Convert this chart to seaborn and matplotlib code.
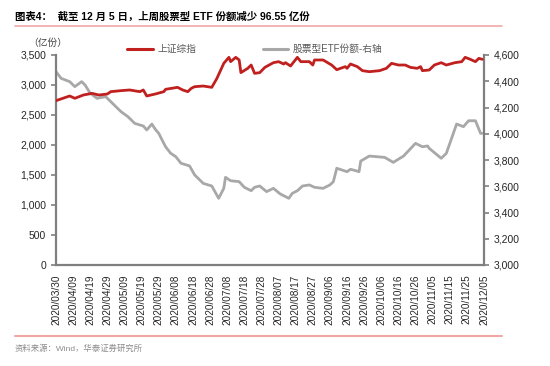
import pandas as pd
import matplotlib
matplotlib.use('Agg')
import matplotlib.pyplot as plt
import matplotlib.dates as mdates
from matplotlib.ticker import FuncFormatter
from matplotlib.lines import Line2D
import seaborn as sns

# 上证综指（左轴）
sh_dates = ['03/30', '04/03', '04/07', '04/10', '04/15', '04/20', '04/24', '04/29',
            '05/01', '05/07', '05/12', '05/18', '05/20', '05/22', '05/27', '06/01',
            '06/02', '06/09', '06/12', '06/15', '06/17', '06/19', '06/24', '06/29',
            '07/02', '07/06', '07/09', '07/10', '07/13', '07/15', '07/16', '07/20',
            '07/22', '07/24', '07/27', '07/30', '08/04', '08/07', '08/10', '08/11',
            '08/14', '08/18', '08/20', '08/25', '08/27', '08/28', '09/02', '09/07',
            '09/10', '09/15', '09/16', '09/18', '09/22', '09/25', '09/29', '10/05',
            '10/09', '10/12', '10/16', '10/20', '10/23', '10/27', '10/29', '10/30',
            '11/03', '11/06', '11/10', '11/13', '11/18', '11/22', '11/24', '11/27',
            '11/30', '12/02', '12/04']
sh_values = [2739, 2778, 2817, 2778, 2833, 2861, 2833, 2850,
             2889, 2906, 2917, 2889, 2917, 2817, 2850, 2889,
             2928, 2961, 2917, 2889, 2944, 2972, 2983, 2961,
             3111, 3361, 3461, 3389, 3461, 3417, 3206, 3278,
             3333, 3194, 3206, 3294, 3372, 3389, 3350, 3372,
             3317, 3461, 3389, 3389, 3333, 3417, 3417, 3333,
             3255, 3306, 3278, 3350, 3306, 3239, 3222, 3239,
             3278, 3361, 3333, 3333, 3294, 3278, 3306, 3239,
             3250, 3333, 3372, 3333, 3372, 3389, 3461, 3428,
             3389, 3444, 3428]

# 股票型ETF份额（右轴）
etf_dates = ['03/30', '04/02', '04/07', '04/10', '04/14', '04/16', '04/19', '04/23',
             '04/28', '05/04', '05/07', '05/11', '05/15', '05/20', '05/22', '05/25',
             '05/27', '05/29', '06/02', '06/05', '06/08', '06/11', '06/16', '06/19',
             '06/24', '06/29', '07/03', '07/06', '07/07', '07/10', '07/15', '07/18',
             '07/22', '07/24', '07/27', '07/31', '08/04', '08/08', '08/13', '08/15',
             '08/18', '08/21', '08/25', '08/28', '09/02', '09/06', '09/08', '09/10',
             '09/16', '09/18', '09/21', '09/23', '09/24', '09/29', '10/08', '10/13',
             '10/19', '10/26', '10/30', '11/02', '11/03', '11/10', '11/12', '11/13',
             '11/19', '11/23', '11/26', '11/30', '12/03', '12/04']
etf_values = [4473, 4422, 4397, 4359, 4397, 4371, 4308, 4270,
              4283, 4206, 4168, 4130, 4079, 4059, 4029, 4074,
              4034, 4003, 3901, 3851, 3825, 3775, 3755, 3686,
              3622, 3602, 3508, 3584, 3668, 3642, 3635, 3592,
              3566, 3592, 3602, 3559, 3584, 3541, 3508, 3546,
              3566, 3602, 3610, 3592, 3584, 3610, 3635, 3737,
              3711, 3729, 3719, 3711, 3792, 3830, 3820, 3782,
              3830, 3927, 3901, 3907, 3889, 3813, 3838, 3851,
              4074, 4054, 4099, 4099, 4003, 4003]

left_ticks = [0, 500, 1000, 1500, 2000, 2500, 3000, 3500]
right_ticks = [3000, 3200, 3400, 3600, 3800, 4000, 4200, 4400, 4600]

sns.set_style('white')
plt.rcParams['font.family'] = ['Liberation Sans', 'Noto Sans CJK SC', 'DejaVu Sans']
plt.rcParams['axes.unicode_minus'] = False

red = '#C0201E'
grey = '#A8A8A8'
spine_c = '#7F7F7F'
txt_c = '#262626'

sh = pd.DataFrame({'date': pd.to_datetime(['2020/' + d for d in sh_dates]), 'value': sh_values})
etf = pd.DataFrame({'date': pd.to_datetime(['2020/' + d for d in etf_dates]), 'value': etf_values})

fig = plt.figure(figsize=(5.5, 3.66), dpi=100)
ax = fig.add_axes([56 / 550, 1 - 265 / 366, 428 / 550, 210 / 366])
ax2 = ax.twinx()

sns.lineplot(data=etf, x='date', y='value', ax=ax2, color=grey, linewidth=2.0, zorder=1)
sns.lineplot(data=sh, x='date', y='value', ax=ax, color=red, linewidth=2.0, zorder=3)
ax.set_zorder(ax2.get_zorder() + 1)
ax.patch.set_visible(False)

ax.set_xlim(pd.Timestamp('2020-03-30'), pd.Timestamp('2020-12-05'))
ax.set_ylim(0, 3500)
ax2.set_ylim(3000, 4600)
ax.set_yticks(left_ticks)
ax2.set_yticks(right_ticks)
fmt = FuncFormatter(lambda v, p: f'{v:,.0f}')
ax.yaxis.set_major_formatter(fmt)
ax2.yaxis.set_major_formatter(fmt)

xt = pd.date_range('2020-03-30', '2020-12-05', freq='10D')
ax.set_xticks(xt)
ax.xaxis.set_major_formatter(mdates.DateFormatter('%Y/%m/%d'))
for a in (ax, ax2):
    a.set_xlabel('')
    a.set_ylabel('')
    a.grid(False)
    for s in a.spines.values():
        s.set_visible(False)
    a.tick_params(colors=spine_c, labelcolor=txt_c, labelsize=7.5, length=3.5, width=1.2, direction='out')

ax.spines['left'].set_visible(True)
ax.spines['bottom'].set_visible(True)
ax2.spines['right'].set_visible(True)
for s in (ax.spines['left'], ax.spines['bottom'], ax2.spines['right']):
    s.set_color(spine_c)
    s.set_linewidth(1.6)
ax.tick_params(axis='x', rotation=90, labelsize=7.2)
ax.tick_params(axis='y', left=True)
ax2.tick_params(axis='y', right=True)

handles = [Line2D([], [], color=red, linewidth=2.2), Line2D([], [], color=grey, linewidth=2.2)]
fig.legend(handles, ['上证综指', '股票型ETF份额-右轴'], loc='center',
           bbox_to_anchor=(255 / 550, 1 - 49 / 366), ncol=2, frameon=False,
           fontsize=7, handlelength=2.6, handletextpad=0.5, columnspacing=6.8,
           labelcolor='#595959')

fig.text(28 / 550, 1 - 43 / 366, '（亿份）', fontsize=7, color='#404040', va='center')

fig.text(15 / 550, 1 - 17 / 366, '图表4：  截至 12 月 5 日，上周股票型 ETF 份额减少 96.55 亿份',
         fontsize=7.5, fontweight='bold', color='black', va='center')
fig.add_artist(Line2D([15 / 550, 502 / 550], [1 - 26 / 366, 1 - 26 / 366], color='#F2A7A7', linewidth=1.2))
fig.add_artist(Line2D([15 / 550, 502 / 550], [1 - 336 / 366, 1 - 336 / 366], color='#F2A7A7', linewidth=1.5))
fig.text(15 / 550, 1 - 349 / 366, '资料来源：Wind，华泰证券研究所', fontsize=6, color='#8C8C8C', va='center')

plt.savefig('out.png', dpi=100)
plt.close()
